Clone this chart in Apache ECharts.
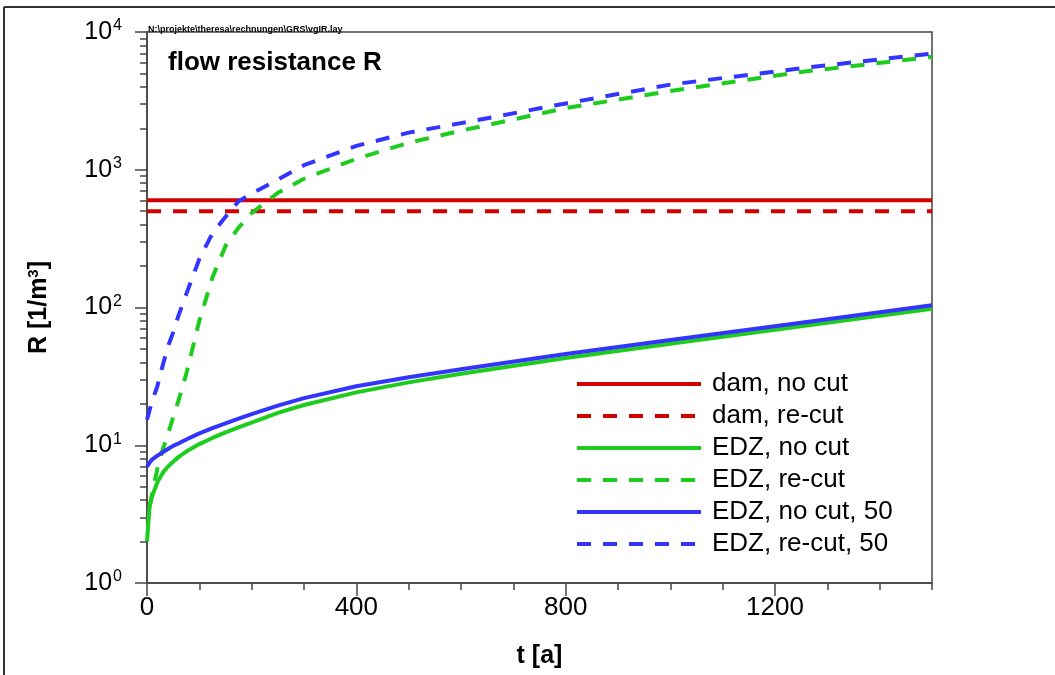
<!DOCTYPE html>
<html>
<head>
<meta charset="utf-8">
<script src="https://cdn.jsdelivr.net/npm/echarts@6/dist/echarts.min.js"></script>
<style>
  html, body { margin: 0; padding: 0; background: #fff; }
  #chart { width: 1055px; height: 675px; }
</style>
</head>
<body>
<div id="chart"></div>
<script>
// Time axis samples [a]
const tYears = [0, 5, 10, 20, 30, 40, 50, 60, 75, 100, 125, 150, 175, 200, 250, 300, 400, 500, 600, 800, 1000, 1250, 1500];

// Flow resistance R [1/m^3]
const edzNoCut     = [2, 3.6, 4.3, 5.4, 6.3, 7.0, 7.6, 8.2, 9.0, 10.2, 11.3, 12.4, 13.5, 14.6, 17.2, 19.6, 24.2, 28.6, 33, 43, 54.5, 73, 98];
const edzReCut     = [null, 3.6, 4.5, 6.8, 9.3, 12, 16, 21, 33, 80, 165, 280, 380, 485, 680, 860, 1200, 1570, 1920, 2800, 3730, 5130, 6600];
const edzNoCut50   = [7, 7.5, 7.9, 8.4, 8.9, 9.4, 9.9, 10.3, 11, 12.2, 13.3, 14.4, 15.6, 16.8, 19.4, 22, 26.8, 31.2, 35.6, 46, 58, 77.5, 104];
const edzReCut50   = [15.3, 18, 21, 27, 38, 52, 66, 87, 125, 225, 345, 455, 590, 670, 850, 1080, 1490, 1860, 2180, 3030, 4150, 5460, 6980];

// Dam: constant resistance over the whole period
const damT      = [0, 1500];
const damNoCut  = [600, 600];
const damReCut  = [500, 500];

// Tick positions
const xMajorTicks = [0, 400, 800, 1200];
const yDecades    = [1, 10, 100, 1000, 10000];
const yMinorTicks = [2, 3, 4, 5, 6, 7, 8, 9, 20, 30, 40, 50, 60, 70, 80, 90,
                     200, 300, 400, 500, 600, 700, 800, 900, 2000, 3000, 4000, 5000, 6000, 7000, 8000, 9000];

const seriesNames = ['dam, no cut', 'dam, re-cut', 'EDZ, no cut', 'EDZ, re-cut', 'EDZ, no cut, 50', 'EDZ, re-cut, 50'];

const RED = '#d40000', GREEN = '#1ecc1e', BLUE = '#3434ff';
const AXIS = '#444';
const FONT = '"Liberation Sans", Arial, sans-serif';
const DASH = [14, 12];

function pairs(ts, vs) { return ts.map((t, i) => [t, vs[i]]); }

function lineSeries(name, data, color, dashed) {
  return {
    name: name,
    type: 'line',
    xAxisIndex: 0,
    yAxisIndex: 0,
    data: data,
    symbol: 'none',
    smooth: false,
    clip: true,
    lineStyle: { color: color, width: 4, type: dashed ? DASH : 'solid', cap: 'butt', join: 'round' },
    itemStyle: { color: color }
  };
}

const chart = echarts.init(document.getElementById('chart'), null, { renderer: 'canvas' });

const option = {
  animation: false,
  backgroundColor: '#fff',
  textStyle: { fontFamily: FONT },
  title: [
    {
      text: 'flow resistance R',
      left: 163, top: 45,
      textStyle: { fontFamily: FONT, fontWeight: 'bold', fontSize: 26, color: '#000' }
    },
    {
      text: 'N:\\projekte\\theresa\\rechnungen\\GRS\\vgIR.lay',
      left: 143, top: 20,
      textStyle: { fontFamily: FONT, fontWeight: 'bold', fontSize: 9, color: '#000' }
    }
  ],
  grid: {
    left: 147, right: 123, top: 32, bottom: 92,
    show: true, borderColor: AXIS, borderWidth: 1.5, backgroundColor: 'transparent'
  },
  legend: {
    orient: 'vertical',
    left: 570, top: 366,
    itemWidth: 124, itemHeight: 14, itemGap: 6,
    data: seriesNames,
    selectedMode: false,
    itemStyle: { opacity: 0 },
    lineStyle: { width: 4 },
    textStyle: { fontFamily: FONT, fontSize: 26, lineHeight: 26, color: '#000', padding: [0, 0, 0, 6] }
  },
  xAxis: [
    {
      type: 'value', position: 'bottom', min: 0, max: 1500, interval: 100,
      axisLine: { lineStyle: { color: AXIS, width: 1.5 } },
      axisTick: { length: 7, lineStyle: { color: AXIS, width: 1.5 } },
      axisLabel: { show: false },
      splitLine: { show: false }
    },
    {
      type: 'value', position: 'bottom', min: 0, max: 1500, interval: 400,
      axisLine: { show: false },
      axisTick: { length: 13, customValues: xMajorTicks, lineStyle: { color: AXIS, width: 1.5 } },
      axisLabel: {
        customValues: xMajorTicks, margin: 12,
        formatter: function (v) { return String(v); },
        fontFamily: FONT, fontSize: 26, color: '#000'
      },
      splitLine: { show: false },
      name: 't [a]', nameLocation: 'middle', nameGap: 61,
      nameTextStyle: { fontFamily: FONT, fontWeight: 'bold', fontSize: 25, color: '#000' }
    }
  ],
  yAxis: [
    {
      type: 'log', logBase: 10, position: 'left', min: 1, max: 10000,
      axisLine: { lineStyle: { color: AXIS, width: 1.5 } },
      axisTick: { length: 12, customValues: yDecades, lineStyle: { color: AXIS, width: 1.5 } },
      axisLabel: {
        customValues: yDecades,
        margin: 25,
        formatter: function (v) { return '{b|10}{s|' + Math.round(Math.log10(v)) + '}'; },
        rich: {
          b: { fontFamily: FONT, fontSize: 25, color: '#000' },
          s: { fontFamily: FONT, fontSize: 16, color: '#000', padding: [0, 0, 12, 1] }
        }
      },
      splitLine: { show: false },
      name: 'R [1/m{sup|3}]', nameLocation: 'middle', nameGap: 94,
      nameTextStyle: {
        fontFamily: FONT, fontWeight: 'bold', fontSize: 25, color: '#000',
        rich: { sup: { fontFamily: FONT, fontWeight: 'bold', fontSize: 15, color: '#000', padding: [0, 0, 12, 0] } }
      }
    },
    {
      type: 'log', logBase: 10, position: 'left', min: 1, max: 10000,
      axisLine: { show: false },
      axisTick: { length: 7, customValues: yMinorTicks, lineStyle: { color: AXIS, width: 1.5 } },
      axisLabel: { show: false },
      splitLine: { show: false }
    }
  ],
  series: [
    lineSeries(seriesNames[0], pairs(damT, damNoCut), RED, false),
    lineSeries(seriesNames[1], pairs(damT, damReCut), RED, true),
    lineSeries(seriesNames[2], pairs(tYears, edzNoCut), GREEN, false),
    lineSeries(seriesNames[3], pairs(tYears, edzReCut), GREEN, true),
    lineSeries(seriesNames[4], pairs(tYears, edzNoCut50), BLUE, false),
    lineSeries(seriesNames[5], pairs(tYears, edzReCut50), BLUE, true)
  ],
  graphic: [
    // page frame: top and left edges
    { type: 'line', shape: { x1: 4, y1: 7, x2: 1055, y2: 7 }, style: { stroke: '#333', lineWidth: 2 }, silent: true },
    { type: 'line', shape: { x1: 4, y1: 7, x2: 4, y2: 675 }, style: { stroke: '#333', lineWidth: 2 }, silent: true }
  ]
};

chart.setOption(option);
</script>
</body>
</html>
